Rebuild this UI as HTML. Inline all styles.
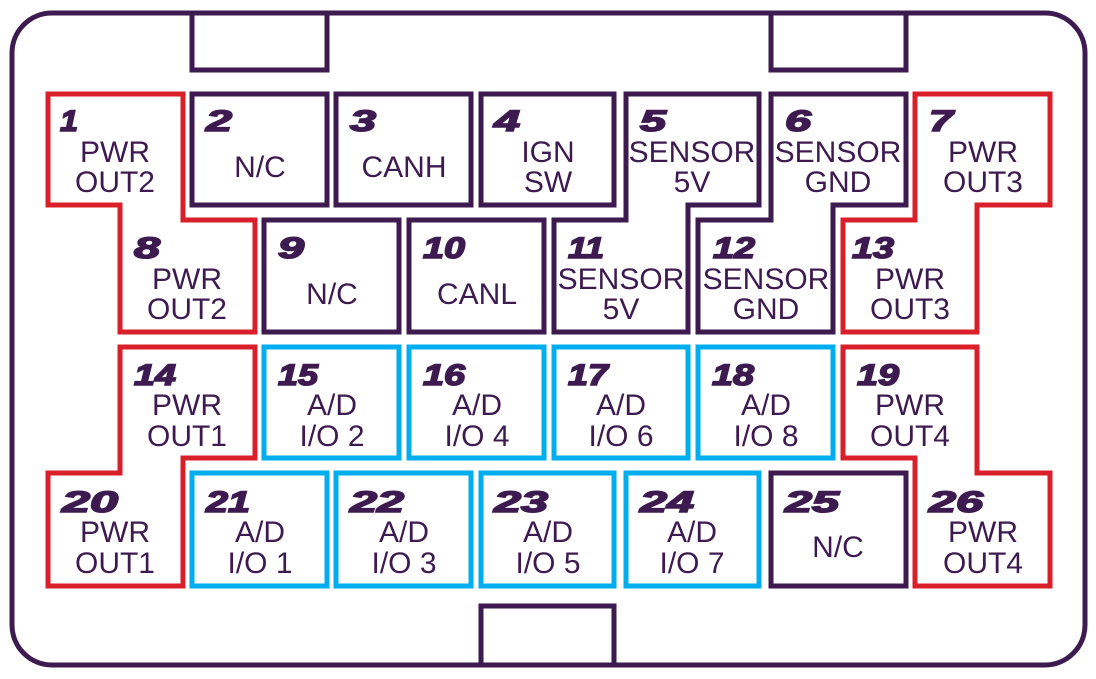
<!DOCTYPE html>
<html><head><meta charset="utf-8"><style>
html,body{margin:0;padding:0;background:#fff;width:1096px;height:679px;overflow:hidden}
svg{display:block}
.n{font-family:"Liberation Sans",sans-serif;font-weight:bold;font-style:italic;font-size:30px;fill:#3d1a4f;stroke:#3d1a4f;stroke-width:1.6}
.l{font-family:"Liberation Sans",sans-serif;font-size:30px;fill:#3d1a4f;text-anchor:middle}
</style></head><body>
<svg width="1096" height="679" viewBox="0 0 1096 679" xmlns="http://www.w3.org/2000/svg">
<g fill="none" stroke-width="5" stroke-linejoin="miter">
<rect x="12" y="13" width="1073" height="652" rx="40" stroke="#3d1a4f"/>
<rect x="192" y="13" width="135" height="57" stroke="#3d1a4f"/>
<rect x="771" y="13" width="135" height="57" stroke="#3d1a4f"/>
<rect x="481" y="606" width="133" height="59" stroke="#3d1a4f"/>
<rect x="192" y="94" width="135" height="111" stroke="#3d1a4f"/>
<rect x="336" y="94" width="135" height="111" stroke="#3d1a4f"/>
<rect x="481" y="94" width="133" height="111" stroke="#3d1a4f"/>
<polygon points="626,94 759,94 759,205 688,205 688,332 554,332 554,220 626,220" stroke="#3d1a4f"/>
<polygon points="771,94 906,94 906,205 833,205 833,332 698,332 698,220 771,220" stroke="#3d1a4f"/>
<rect x="264" y="220" width="135" height="112" stroke="#3d1a4f"/>
<rect x="409" y="220" width="135" height="112" stroke="#3d1a4f"/>
<rect x="771" y="473" width="135" height="113" stroke="#3d1a4f"/>
<polygon points="48,94 183,94 183,220 255,220 255,332 120,332 120,205 48,205" stroke="#d9202a"/>
<polygon points="915,94 1050,94 1050,205 977,205 977,332 843,332 843,220 915,220" stroke="#d9202a"/>
<polygon points="120,347 255,347 255,458 183,458 183,586 48,586 48,473 120,473" stroke="#d9202a"/>
<polygon points="843,347 977,347 977,473 1050,473 1050,586 915,586 915,458 843,458" stroke="#d9202a"/>
<rect x="264" y="347" width="135" height="111" stroke="#00aeef"/>
<rect x="409" y="347" width="135" height="111" stroke="#00aeef"/>
<rect x="554" y="347" width="134" height="111" stroke="#00aeef"/>
<rect x="698" y="347" width="135" height="111" stroke="#00aeef"/>
<rect x="192" y="473" width="135" height="113" stroke="#00aeef"/>
<rect x="336" y="473" width="135" height="113" stroke="#00aeef"/>
<rect x="481" y="473" width="133" height="113" stroke="#00aeef"/>
<rect x="626" y="473" width="133" height="113" stroke="#00aeef"/>
</g>
<g class="n">
<text x="60" y="131" textLength="18" lengthAdjust="spacingAndGlyphs">1</text>
<text x="206" y="131" textLength="26" lengthAdjust="spacingAndGlyphs">2</text>
<text x="350" y="131" textLength="26" lengthAdjust="spacingAndGlyphs">3</text>
<text x="494" y="131" textLength="26" lengthAdjust="spacingAndGlyphs">4</text>
<text x="640" y="131" textLength="26" lengthAdjust="spacingAndGlyphs">5</text>
<text x="785" y="131" textLength="26" lengthAdjust="spacingAndGlyphs">6</text>
<text x="929" y="131" textLength="24" lengthAdjust="spacingAndGlyphs">7</text>
<text x="134" y="258" textLength="26" lengthAdjust="spacingAndGlyphs">8</text>
<text x="278" y="258" textLength="26" lengthAdjust="spacingAndGlyphs">9</text>
<text x="423" y="258" textLength="42" lengthAdjust="spacingAndGlyphs">10</text>
<text x="568" y="258" textLength="36" lengthAdjust="spacingAndGlyphs">11</text>
<text x="713" y="258" textLength="42" lengthAdjust="spacingAndGlyphs">12</text>
<text x="852" y="258" textLength="42" lengthAdjust="spacingAndGlyphs">13</text>
<text x="134" y="385" textLength="42" lengthAdjust="spacingAndGlyphs">14</text>
<text x="278" y="385" textLength="40" lengthAdjust="spacingAndGlyphs">15</text>
<text x="423" y="385" textLength="42" lengthAdjust="spacingAndGlyphs">16</text>
<text x="568" y="385" textLength="40" lengthAdjust="spacingAndGlyphs">17</text>
<text x="712" y="385" textLength="42" lengthAdjust="spacingAndGlyphs">18</text>
<text x="857" y="385" textLength="42" lengthAdjust="spacingAndGlyphs">19</text>
<text x="62" y="512" textLength="56" lengthAdjust="spacingAndGlyphs">20</text>
<text x="206" y="512" textLength="44" lengthAdjust="spacingAndGlyphs">21</text>
<text x="350" y="512" textLength="54" lengthAdjust="spacingAndGlyphs">22</text>
<text x="494" y="512" textLength="54" lengthAdjust="spacingAndGlyphs">23</text>
<text x="640" y="512" textLength="54" lengthAdjust="spacingAndGlyphs">24</text>
<text x="785" y="512" textLength="54" lengthAdjust="spacingAndGlyphs">25</text>
<text x="929" y="512" textLength="54" lengthAdjust="spacingAndGlyphs">26</text>
</g>
<g class="l">
<text x="115" y="162">PWR</text><text x="115" y="192">OUT2</text>
<text x="260" y="177">N/C</text>
<text x="404" y="177">CANH</text>
<text x="548" y="162">IGN</text><text x="548" y="192">SW</text>
<text x="692" y="162">SENSOR</text><text x="692" y="192">5V</text>
<text x="838" y="162">SENSOR</text><text x="838" y="192">GND</text>
<text x="983" y="162">PWR</text><text x="983" y="192">OUT3</text>
<text x="187" y="289">PWR</text><text x="187" y="319">OUT2</text>
<text x="332" y="304">N/C</text>
<text x="477" y="304">CANL</text>
<text x="621" y="289">SENSOR</text><text x="621" y="319">5V</text>
<text x="766" y="289">SENSOR</text><text x="766" y="319">GND</text>
<text x="910" y="289">PWR</text><text x="910" y="319">OUT3</text>
<text x="187" y="415">PWR</text><text x="187" y="446">OUT1</text>
<text x="332" y="415">A/D</text><text x="332" y="446">I/O 2</text>
<text x="477" y="415">A/D</text><text x="477" y="446">I/O 4</text>
<text x="621" y="415">A/D</text><text x="621" y="446">I/O 6</text>
<text x="766" y="415">A/D</text><text x="766" y="446">I/O 8</text>
<text x="910" y="415">PWR</text><text x="910" y="446">OUT4</text>
<text x="115" y="542">PWR</text><text x="115" y="573">OUT1</text>
<text x="260" y="542">A/D</text><text x="260" y="573">I/O 1</text>
<text x="404" y="542">A/D</text><text x="404" y="573">I/O 3</text>
<text x="548" y="542">A/D</text><text x="548" y="573">I/O 5</text>
<text x="692" y="542">A/D</text><text x="692" y="573">I/O 7</text>
<text x="838" y="557">N/C</text>
<text x="983" y="542">PWR</text><text x="983" y="573">OUT4</text>
</g>
</svg>
</body></html>
